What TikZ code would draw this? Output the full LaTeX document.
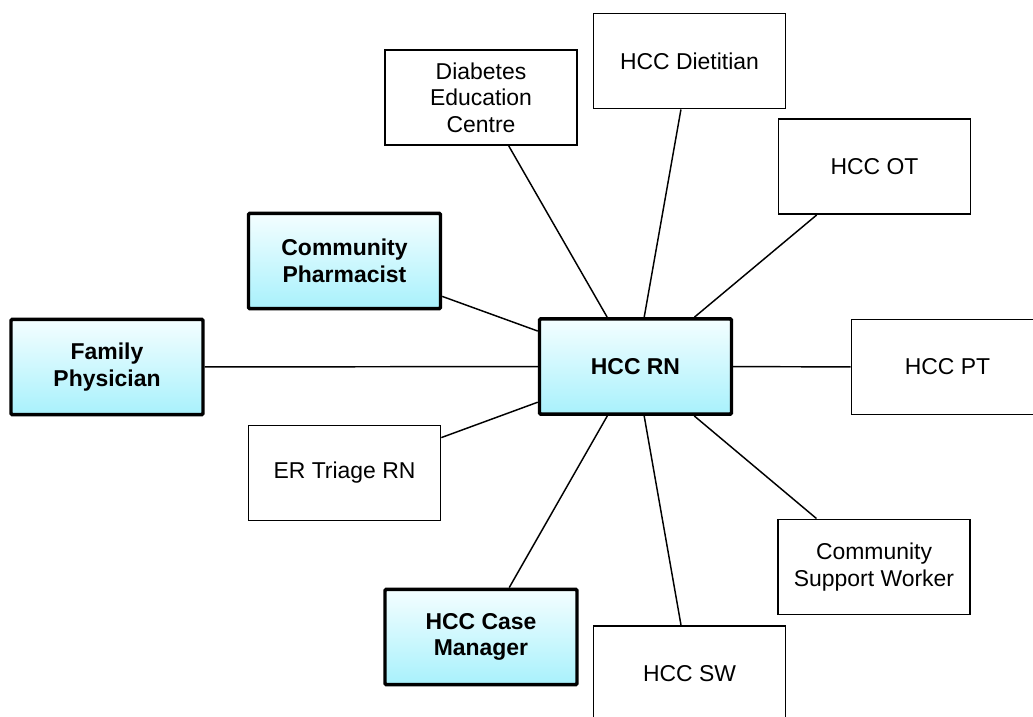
\documentclass[tikz,border=0pt]{standalone}
\usepackage{fontspec}
\setmainfont{Liberation Sans}
\definecolor{cTop}{RGB}{244,254,255}
\definecolor{cBot}{RGB}{168,241,252}
\tikzset{
  pl/.style={draw,line width=1.2pt,minimum width=144pt,minimum height=71.5pt,inner sep=2pt,align=center,font=\fontsize{17.2}{20}\selectfont},
  key/.style={pl,line width=2.6pt,rounded corners=1pt,top color=cTop,bottom color=cBot,font=\fontsize{17.2}{20}\selectfont\bfseries},
  every picture/.style={line width=1.1pt},
}
\begin{document}
\begin{tikzpicture}[x=0.75pt,y=-0.75pt]
\useasboundingbox (0,0) rectangle (1033,717);
\clip (0,0) rectangle (1033,717);
\node[key] (RN) at (635.5,366.5){HCC RN};
\node[pl] (DEC) at (481,97.5){Diabetes\\Education\\Centre};
\node[pl] (DT) at (689.5,61){HCC Dietitian};
\node[pl] (OT) at (874.5,166.5){HCC OT};
\node[key] (PH) at (344.5,261){Community\\Pharmacist};
\node[key] (FP) at (107,367){Family\\Physician};
\node[pl] (PT) at (947.5,367){HCC PT};
\node[pl] (ER) at (344.5,473){ER Triage RN};
\node[pl] (CSW) at (874,567){Community\\Support Worker};
\node[key] (CM) at (481,637){HCC Case\\Manager};
\node[pl] (SW) at (689.5,673.5){HCC SW};
\draw (RN)--(DEC); \draw (RN)--(DT); \draw (RN)--(OT); \draw (RN)--(PH);
\draw (RN)--(FP); \draw (RN)--(PT); \draw (RN)--(ER); \draw (RN)--(CSW);
\draw (RN)--(CM); \draw (RN)--(SW);
\end{tikzpicture}
\end{document}
